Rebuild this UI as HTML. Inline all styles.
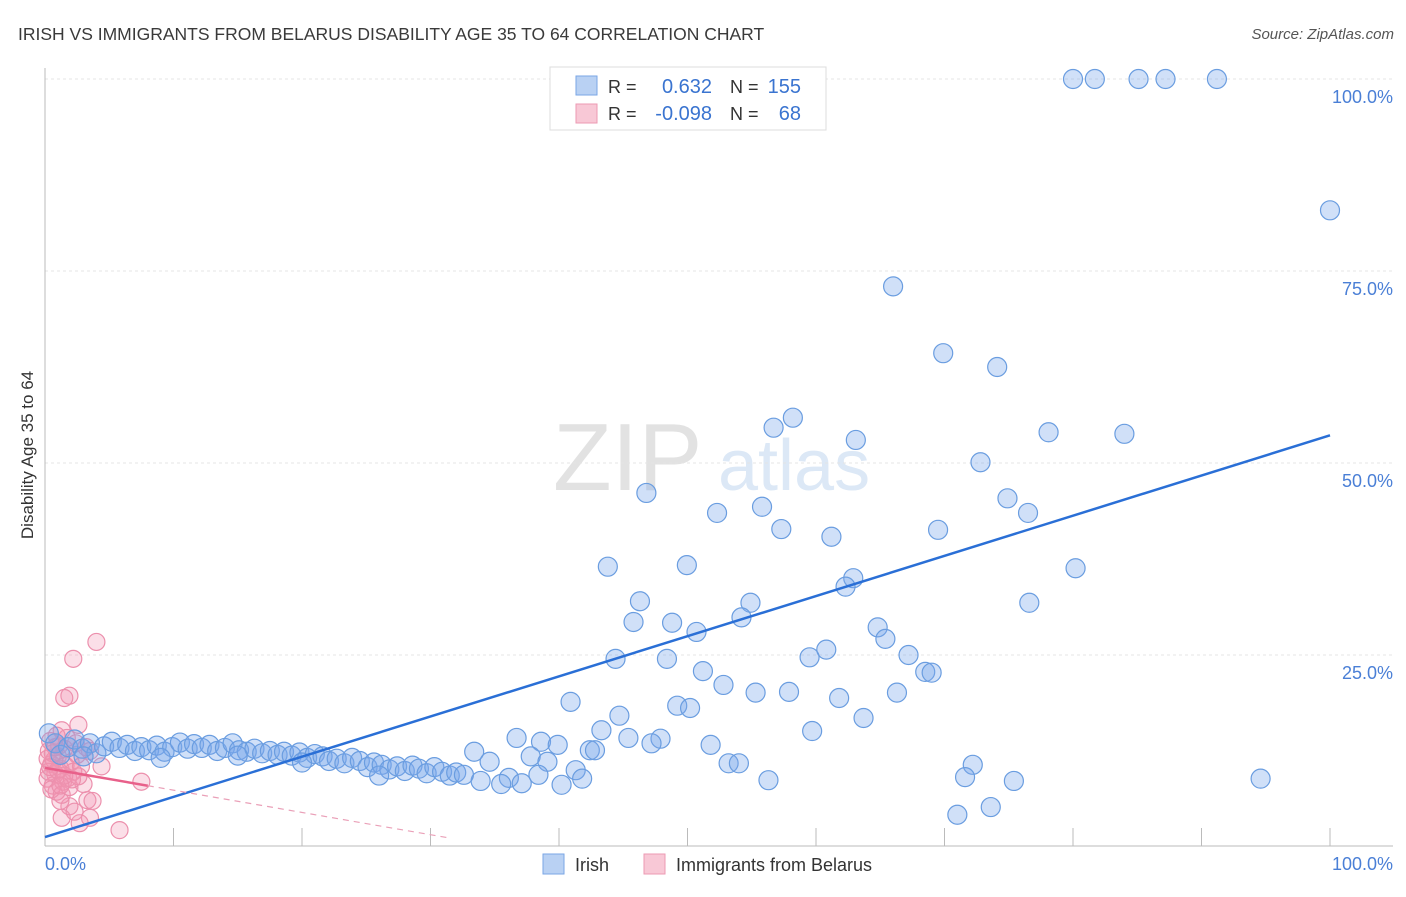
<!DOCTYPE html>
<html><head><meta charset="utf-8"><style>
body{margin:0;background:#fff;font-family:"Liberation Sans",sans-serif;}
svg text{font-family:"Liberation Sans",sans-serif;}
</style></head><body>
<svg id="chart" width="1406" height="892" xmlns="http://www.w3.org/2000/svg">
<text x="18" y="40" font-size="17.5" fill="#3a3a3a">IRISH VS IMMIGRANTS FROM BELARUS DISABILITY AGE 35 TO 64 CORRELATION CHART</text>
<text x="1394" y="39" font-size="15" font-style="italic" fill="#555" text-anchor="end">Source: ZipAtlas.com</text>
<text x="553" y="490" font-size="96" font-family="Liberation Serif" fill="#e2e2e2">ZIP</text>
<text x="718" y="490" font-size="72" fill="#dce8f6">atlas</text>
<g id="grid"></g>
<g id="axes"></g>
<g id="pink-points"></g>
<g id="blue-points"></g>
<g id="lines"></g>
<text transform="translate(33,455) rotate(-90)" font-size="17" fill="#333" text-anchor="middle">Disability Age 35 to 64</text>
<text x="45" y="870" font-size="18" fill="#4a7fd6">0.0%</text>
<text x="1393" y="870" font-size="18" fill="#4a7fd6" text-anchor="end">100.0%</text>
<g>
<rect x="550" y="67" width="276" height="63" fill="#fff" stroke="#ddd"/>
<rect x="576" y="76" width="21" height="19" fill="#b9d1f3" stroke="#7aa6e6"/>
<text x="608" y="93" font-size="18" fill="#333">R =</text>
<text x="712" y="93" font-size="20" fill="#3a74d0" text-anchor="end">0.632</text>
<text x="730" y="93" font-size="18" fill="#333">N =</text>
<text x="801" y="93" font-size="20" fill="#3a74d0" text-anchor="end">155</text>
<rect x="576" y="104" width="21" height="19" fill="#f8c8d6" stroke="#ec9ab3"/>
<text x="608" y="120" font-size="18" fill="#333">R =</text>
<text x="712" y="120" font-size="20" fill="#3a74d0" text-anchor="end">-0.098</text>
<text x="730" y="120" font-size="18" fill="#333">N =</text>
<text x="801" y="120" font-size="20" fill="#3a74d0" text-anchor="end">68</text>
</g>
<g>
<rect x="543" y="854" width="21" height="20" fill="#b9d1f3" stroke="#7aa6e6"/>
<text x="575" y="871" font-size="18" fill="#333">Irish</text>
<rect x="644" y="854" width="21" height="20" fill="#f8c8d6" stroke="#ec9ab3"/>
<text x="676" y="871" font-size="18" fill="#333">Immigrants from Belarus</text>
</g>
</svg>
<script>
const yTicks=[25,50,75,100];
const yTickLabels=["25.0%","50.0%","75.0%","100.0%"];
const xTicks=[0,10,20,30,40,50,60,70,80,90,100];
const blueX=[80.0,81.7,85.1,87.2,91.2,100,66.0,69.9,74.1,58.2,56.7,78.1,84.0,63.1,72.8,46.8,74.9,55.8,52.3,76.5,69.5,57.3,61.2,43.8,49.95,80.2,62.9,62.3,46.3,54.9,76.6,54.2,45.8,48.8,50.7,64.8,65.4,60.8,59.5,67.2,44.4,48.4,51.2,68.5,69.0,52.8,55.3,57.9,66.3,61.8,40.9,49.2,50.2,63.7,44.7,43.3,59.7,36.7,45.4,47.9,47.2,38.6,39.9,51.8,42.4,42.8,33.4,37.8,34.6,39.1,53.2,54.0,72.2,41.3,38.4,71.6,36.1,41.8,33.9,37.1,56.3,75.4,94.6,35.5,40.2,73.6,71.0,
0.3,0.8,1.2,1.8,2.3,2.9,3.5,4.0,4.6,5.2,5.8,6.4,7.0,7.5,8.1,8.7,9.3,9.9,10.5,11.1,11.6,12.2,12.8,13.4,14.0,14.6,15.1,15.7,16.3,16.9,17.5,18.1,18.6,19.2,19.8,20.4,21.0,21.6,22.1,22.7,23.3,23.9,24.5,25.1,25.6,26.2,26.8,27.4,28.0,28.6,29.1,29.7,30.3,30.9,31.5,32.0,32.6,3.0,9.0,15.0,26.0,20.0];
const blueY=[100,100,100,100,100,82.9,73.0,64.3,62.5,55.9,54.6,54.0,53.8,53.0,50.1,46.1,45.4,44.3,43.5,43.5,41.3,41.4,40.4,36.5,36.7,36.3,35.0,33.9,32.0,31.8,31.8,29.9,29.3,29.2,28.0,28.6,27.1,25.7,24.7,25.0,24.5,24.5,22.9,22.8,22.7,21.1,20.1,20.2,20.1,19.4,18.9,18.4,18.1,16.8,17.1,15.2,15.1,14.2,14.2,14.1,13.5,13.7,13.3,13.3,12.6,12.6,12.4,11.8,11.1,11.1,10.9,10.9,10.7,10.0,9.4,9.1,9.0,8.9,8.6,8.3,8.7,8.6,8.9,8.2,8.1,5.2,4.2,
14.8,13.5,12.0,13.0,14.0,12.8,13.5,12.2,13.1,13.7,12.9,13.3,12.5,13.0,12.6,13.2,12.4,13.0,13.6,12.8,13.4,12.9,13.3,12.5,12.9,13.5,12.6,12.4,12.8,12.2,12.5,12.0,12.4,11.9,12.3,11.6,12.1,11.8,11.2,11.5,10.9,11.6,11.2,10.4,11.0,10.7,10.1,10.5,9.9,10.6,10.2,9.6,10.4,9.8,9.3,9.7,9.4,11.8,11.6,11.9,9.3,11.0];
const pinkX=[4.0,2.2,1.9,1.5,2.6,1.3,7.5,5.8,4.4,3.3,3.7,1.9,1.3,3.5,2.7,2.3,1.2,
0.3,0.5,0.8,1.0,0.2,0.6,1.2,1.5,0.4,1.8,2.0,0.9,1.4,2.2,0.7,1.1,1.6,2.5,0.3,0.5,1.3,2.8,3.0,1.7,2.4,0.9,1.9,0.2,2.6,3.5,1.0,0.6,1.5,2.1,0.4,3.2,1.2,0.8];
const pinkY=[26.7,24.5,19.7,19.4,15.9,15.2,8.5,2.2,10.5,6.1,6.0,5.3,3.8,3.8,3.1,4.6,6.0,
12.5,10.8,9.5,11.8,8.9,8.0,10.2,12.8,13.8,9.0,11.0,7.2,8.5,9.8,11.3,13.2,10.6,12.0,9.8,7.5,6.8,10.5,8.2,14.2,13.5,14.5,7.8,11.5,9.2,12.5,10.0,12.2,9.3,8.8,10.4,13.0,8.0,13.0];
const blueTrend=[1.3,53.6];
const pinkTrend=[10.3,-0.29];
const NS="http://www.w3.org/2000/svg";
const X=v=>45+v*12.85, Y=v=>847-v*7.68;
function mk(tag,attrs,parent){const e=document.createElementNS(NS,tag);for(const k in attrs)e.setAttribute(k,attrs[k]);document.getElementById(parent).appendChild(e);return e;}
yTicks.forEach((t,i)=>{
 const g=mk('line',{x1:45,x2:1393,y1:Y(t),y2:Y(t),stroke:'#e4e4e4','stroke-dasharray':'3,3'},'grid');
 
 
 const l=mk('text',{x:1393,y:Y(t)+24,'font-size':18,fill:'#4a7fd6','text-anchor':'end'},'grid');
 l.textContent=yTickLabels[i];
 
 
});
const ax=mk('line',{x1:45,x2:45,y1:68,y2:846,stroke:'#bbb'},'axes');


const bx=mk('line',{x1:45,x2:1393,y1:846,y2:846,stroke:'#bbb'},'axes');


xTicks.forEach(t=>{
 const e=mk('line',{x1:X(t),x2:X(t),y1:828,y2:846,stroke:'#bbb'},'axes');
 
 
});
pinkX.forEach((x,i)=>{
 const c=mk('circle',{cx:X(x),cy:Y(pinkY[i]),r:8.5,fill:'rgba(242,150,178,0.3)',stroke:'#ec90ad','stroke-width':1.2},'pink-points');
 
 
});
blueX.forEach((x,i)=>{
 const c=mk('circle',{cx:X(x),cy:Y(blueY[i]),r:9.5,fill:'rgba(120,165,235,0.35)',stroke:'#6a9de0','stroke-width':1.2},'blue-points');
 
 
});
const bl=mk('line',{x1:X(0),y1:Y(blueTrend[0]),x2:X(100),y2:Y(blueTrend[1]),stroke:'#2a6fd6','stroke-width':2.5},'lines');


const pl=mk('line',{x1:X(0),y1:Y(pinkTrend[0]),x2:X(8),y2:Y(pinkTrend[0]+pinkTrend[1]*8),stroke:'#e8608a','stroke-width':2.5},'lines');


const pd=mk('line',{x1:X(8),y1:Y(pinkTrend[0]+pinkTrend[1]*8),x2:X(31.5),y2:Y(pinkTrend[0]+pinkTrend[1]*31.5),stroke:'#eaa0b8','stroke-width':1.2,'stroke-dasharray':'6,5'},'lines');


</script>
</body></html>
